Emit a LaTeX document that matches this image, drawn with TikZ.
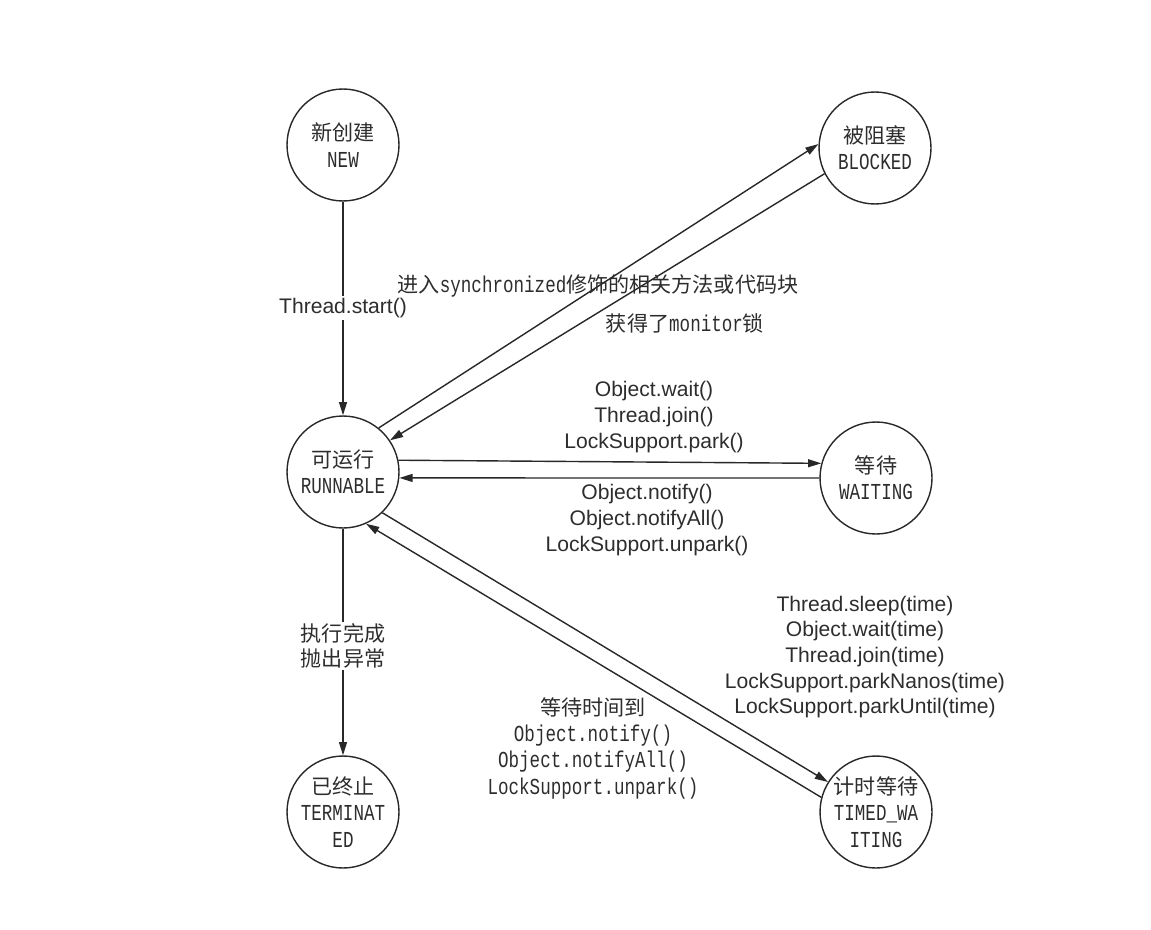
\documentclass[tikz,border=0pt]{standalone}
\usepackage{graphicx}
\usepackage{fontspec}
\setmainfont{Liberation Sans}
\setmonofont{Liberation Mono}
\newfontfamily\cjk{Noto Sans CJK SC}
\usetikzlibrary{arrows.meta}
\definecolor{cline}{RGB}{40,40,40}
\definecolor{ctext}{RGB}{45,45,45}
\newcommand\monotxt[1]{\scalebox{1}[1.3]{\ttfamily\fontsize{10}{15}\selectfont #1}}

\begin{document}
\begin{tikzpicture}[x=0.02cm, y=-0.02cm,
    >={Triangle[length=7.5pt,width=4.5pt]},
    state/.style={circle, draw=cline, line width=0.8pt, minimum size=2.24cm, inner sep=0pt,
                  align=center, font=\fontsize{12}{15}\selectfont, text=ctext},
    trans/.style={->, draw=cline, line width=0.8pt},
    lbl/.style={align=center, font=\fontsize{12}{14.6}\selectfont, text=ctext, inner sep=1pt},
  ]
  \useasboundingbox (0,0) rectangle (1151,929);
  % states
  \node[state] (new) at (343,145) {{\cjk 新创建}\\\monotxt{NEW}};
  \node[state] (blk) at (875,148) {{\cjk 被阻塞}\\\monotxt{BLOCKED}};
  \node[state] (run) at (343,472) {{\cjk 可运行}\\\monotxt{RUNNABLE}};
  \node[state] (wait) at (876,478) {{\cjk 等待}\\\monotxt{WAITING}};
  \node[state] (term) at (343,812) {{\cjk 已终止}\\\monotxt{TERMINAT}\\\monotxt{ED}};
  \node[state] (timed) at (876,812) {{\cjk 计时等待}\\\monotxt{TIMED\_WA}\\\monotxt{ITING}};

  % transitions
  \draw[trans] (new) -- (run);
  \draw[trans] (run.51) -- (blk.176);
  \draw[trans] (blk.207) -- (run.34);
  \draw[trans] (run.12) -- (wait.165);
  \draw[trans] (wait.180) -- (run.-6);
  \draw[trans] (run) -- (term);
  \draw[trans] (run.-46) -- (timed.148);
  \draw[trans] (timed.165) -- (run.-66);

  % labels
  \node[lbl, fill=white] (lstart) at (343,308) {Thread.start()};
  \node[lbl] (lsync) at (598,286) {{\cjk 进入}\monotxt{synchronized}{\cjk 修饰的相关方法或代码块}};
  \node[lbl] (lmon) at (685,323) {{\cjk 获得了}\monotxt{monitor}{\cjk 锁}};
  \node[lbl] (lwait) at (654,417) {Object.wait()\\Thread.join()\\LockSupport.park()};
  \node[lbl] (lnotify) at (647,520) {Object.notify()\\Object.notifyAll()\\LockSupport.unpark()};
  \node[lbl, fill=white] (lend) at (343,646) {{\cjk 执行完成}\\{\cjk 抛出异常}};
  \node[lbl] (ltimed) at (865,657) {Thread.sleep(time)\\Object.wait(time)\\Thread.join(time)\\
    LockSupport.parkNanos(time)\\LockSupport.parkUntil(time)};
  \node[lbl, font=\fontsize{12}{15}\selectfont] (lback) at (593,748) {{\cjk 等待时间到}\\\monotxt{Object.notify()}\\
    \monotxt{Object.notifyAll()}\\\monotxt{LockSupport.unpark()}};
\end{tikzpicture}
\end{document}
